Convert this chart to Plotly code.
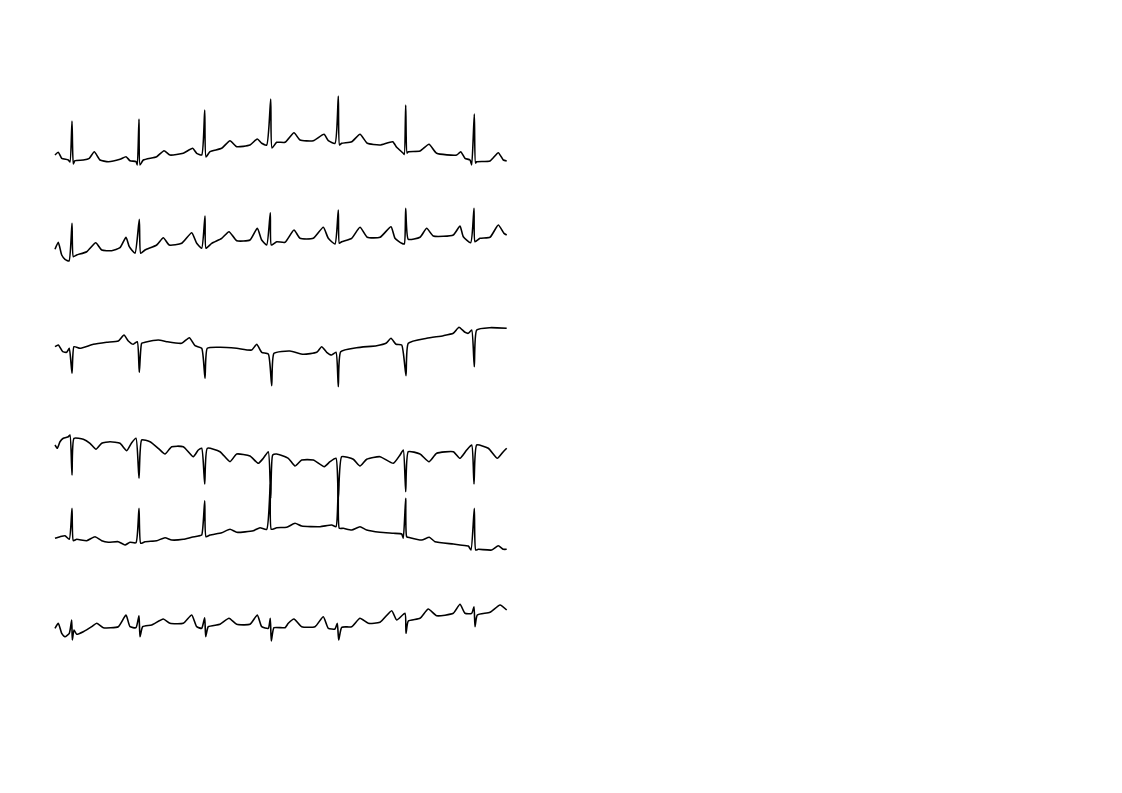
import plotly.graph_objects as go

# Six limb leads: time in samples, amplitude in a.u. (up = positive)
lead_names = ["I", "II", "III", "aVR", "aVL", "aVF"]

lead_I_t = [0, 3.3, 6.7, 13.3, 15, 17, 18.3, 20, 28.3, 34.3, 39.3, 45, 53.3, 65, 71, 75, 81, 82.3, 84, 85, 88.3,
            101.7, 109, 115, 128.3, 137.7, 141.7, 146.7, 149.7, 151, 155, 166.7, 175, 181.7, 195, 202.3, 206.7,
            211.7, 215.7, 217, 221.7, 230, 239, 245, 258.3, 269, 273.3, 280, 283.3, 284.5, 286.7, 296.7, 305,
            312.3, 325, 337.7, 341.7, 348.3, 349.3, 350.7, 352, 353.3, 365, 374, 381.7, 401.7, 405.7, 410, 415,
            416.7, 419.3, 420.5, 421.7, 435, 443.3, 448.3, 451.7]
lead_I_v = [2, 4.7, -1.3, -3, -5, 36, -7, -3.7, -3, -1.3, 5.3, -3, -4.7, -2.3, 0.3, -3.7, -4.7, -8, 38, -8, -3,
            0.3, 6.3, 2, 3.7, 8.7, 3.7, 2, 47, 0, 5.3, 8.7, 16.3, 10.3, 12, 18, 13.7,
            12, 58, 9, 14.7, 14.7, 24.3, 17, 16.3, 22.7, 16.3, 13.7, 61, 12, 13.7, 15.3, 22.7,
            13.7, 12, 15.3, 9.7, 3.7, 2.5, 52, 4, 5.3, 6, 12.7, 3.7, 2, 5.3, -1.3, -3,
            -8, 43, -6, -4.7, -4, 4.3, -3, -4]

lead_II_t = [0, 3.3, 6.7, 10, 14, 17, 18.3, 21.7, 31.7, 40.7, 46.7, 56.7, 65, 71, 74.3, 80, 84.3, 85.7, 90, 101.7,
             108.3, 114.3, 126.7, 136.7, 141.7, 146.7, 150, 151, 156.7, 166.7, 174, 181.7, 195, 202.3, 206.7,
             211.7, 215.3, 216.3, 221.7, 230, 239, 245, 258.3, 268.3, 273.3, 280, 283.3, 284.3, 286.7, 296.7,
             305, 312.3, 325, 336, 340, 346.7, 349.3, 350.7, 353.3, 365, 371.7, 378.3, 398.3, 405, 408.3, 415.7,
             419, 420, 425, 435, 443.3, 449, 451.7]
lead_II_v = [-2.3, 4.7, -8, -12.3, -14, 23.7, -9.7, -8, -4.7, 4.3, -3, -3.7, -0.7, 9.7, 0.3, -6.3, 27.7, -6.3, -3, 2,
             9.3, 2, 3.7, 14.3, 3.7, -1.3, 31, -1.3, 3.7, 8.7, 15.3, 6.3, 7, 18.7, 7,
             2, 34.3, 2, 5.3, 4.7, 17, 8.7, 8.7, 19.7, 8.7, 3, 37, 3.7, 5.3, 8.7,
             19.7, 9.7, 9.7, 20.3, 8.7, 3.7, 3, 38.7, 7.7, 9.7, 18.7, 11, 12, 21, 10.3, 4.3,
             38.7, 5.3, 8.7, 9.7, 22, 13.7, 12]

lead_III_t = [0, 3.3, 7.7, 11.7, 14.3, 17, 19, 25, 38.3, 51.7, 63.3, 69, 73.3, 78.3, 82.3, 84.3, 86.7, 90, 103.3,
              111.7, 126.7, 134.3, 140, 146.7, 150, 152.3, 165, 181.7, 196.7, 201.7, 206.7, 213.3, 216.7, 219,
              235, 248.3, 261.7, 266.7, 271.7, 276.7, 281, 283.3, 285.7, 301.7, 321.7, 331, 336, 341, 346.7, 351,
              353.3, 371.7, 388.3, 398.3, 404, 410, 413.3, 416.7, 419.3, 421.7, 435, 451.7]
lead_III_v = [-1.7, 0, -6.7, -7.3, -3.3, -28.3, -1.7, -3.3, 0.7, 2.7, 4, 10, 4, 0.7, 3.3, -27.3, 1.7, 2.7, 5,
              3.3, 1.7, 7.3, -0.7, -3.3, -33.3, -3.3, -2.3, -3.3, -5, 0.7, -7.3, -9, -40.7, -8.3,
              -6, -9.3, -7.3, -1.7, -7.3, -10, -7.3, -41.7, -6.7, -2.7, -0.7, 1.7, 6.7, 0.7, 0, -30.7,
              1.7, 6.7, 9.3, 11.7, 17.7, 12.7, 11.7, 15, -21.7, 15, 17.3, 16.7]

lead_aVR_t = [0, 2.3, 5, 8.3, 13.3, 15, 17, 19, 28.3, 35, 41, 46.7, 55, 65, 71.7, 76.7, 81, 84, 86.7, 95, 103.3,
              110, 116.7, 128.3, 138.3, 143.3, 146.7, 149.7, 152.3, 165, 175, 181.7, 195, 203.3, 208.3, 213.3,
              215.7, 217.7, 221.7, 233.3, 240, 246.7, 258.3, 269.3, 275, 281, 283.3, 286.7, 298.3, 305, 311.7,
              325, 338.3, 345, 348.3, 350.7, 353.3, 365, 374, 381.7, 398.3, 405, 411.7, 416.7, 419, 421.7, 433.3,
              442.3, 448.3, 451.7]
lead_aVR_v = [0, -3.3, 3.3, 6.7, 8.3, 10, -30, 6.7, 5.7, 1.7, -4.3, 1.7, 3.3, 1.7, -5.7, 2.3, 6.7, -33.3, 5, 3.3, -3.3,
              -9, -1.7, -1.7, -11.7, -5, -3.3, -39, -3.3, -6.7, -16.7, -9, -11, -18.3, -13.3, -6.7,
              -53.3, -10, -9, -13.3, -21, -15, -15, -21.7, -16.7, -13.3, -53.3, -11.7, -14.3, -21, -14.3,
              -11.7, -18.3, -10, -5, -46.7, -6.7, -9, -16.7, -8.3, -6.7, -13.3, -5, 0, -39, 0, -3.3,
              -13.3, -6.7, -3.3]

lead_aVL_t = [0, 5, 10, 14.3, 17, 18.3, 21.7, 31.7, 40, 46.7, 53.3, 63.3, 70, 75, 81, 84, 85.7, 90, 101.7, 110,
              116.7, 128.3, 136.7, 143.3, 146.7, 149.7, 151, 155, 166.7, 175, 181.7, 198.3, 205, 211.7, 215.3,
              216.3, 221.7, 231.7, 240, 246.7, 265, 276.7, 281, 283.3, 284.3, 288.3, 296.7, 305, 311.7, 325,
              338.3, 346.7, 348.3, 350.7, 351.7, 355, 366.7, 374.3, 380, 398.3, 405, 413.3, 416, 419.3, 420.7,
              423.3, 436.7, 443.3, 448.3, 451.7]
lead_aVL_v = [1.7, 3.3, 4.3, 0.7, 31.7, -0.7, 0.7, -0.7, 3.3, -0.7, -2.3, -1.7, -5, -2.3, -2.7, 31.7, -3.3, -1.7, -0.7, 2.3,
              0, 0.7, 2.7, 4, 5, 39.3, 3.3, 5, 7.3, 10.7, 7.7, 9.3, 12.3, 10.7, 56,
              10.7, 12.3, 12.7, 16.7, 14, 13.3, 15, 13.3, 56, 11.7, 11.7, 10, 13.3, 10, 7.7,
              6.7, 6, 1.7, 41.7, 3.3, 2.3, 0, 2.7, -1.7, -4, -5, -6, -10, 31.7, -10,
              -9.3, -10, -5.7, -9.3, -9.3]

lead_aVF_t = [0, 3.3, 6.7, 10, 14.3, 16.7, 17.3, 19, 21.7, 28.3, 36.7, 41.7, 48.3, 63.3, 71, 75, 81, 84, 85, 87.7,
              96.7, 108.3, 115, 128.3, 136.7, 141.7, 146.7, 149.7, 150.7, 153.3, 165, 174, 181.7, 195, 202.3,
              206.7, 213.3, 215.3, 216.3, 219, 230, 233.3, 239, 246.7, 260, 268.3, 273.3, 280, 282.3, 283.7,
              286.7, 296.7, 305, 313.3, 325, 336.7, 341.7, 350, 351, 353.3, 365, 373.3, 381.7, 398.3, 405, 410,
              416.7, 419, 420, 422.3, 435, 445, 451.7]
lead_aVF_v = [-1.3, 3.7, -6.3, -9.7, -6.3, 7, -13, -3, -7.3, -4.7, 0.3, 3.7, -0.7, 0.3, 12, 0.3, -0.7, 11.3, -9.7, 0.3,
              2, 8, 3.7, 3.7, 12, 0.3, -1.3, 9.3, -9.7, 0.3, 2.7, 8.7, 2.7, 2.7, 12,
              0.3, -1.3, 8.7, -14, -0.7, -0.7, 3.7, 8, 0.3, 0.3, 10.3, -1.3, -2, 3.7, -13,
              -0.3, 0.3, 8.7, 3.7, 4.7, 16.3, 7, 13.7, -6.3, 6, 8.7, 18, 11.3, 13.7, 22.7, 13.7,
              13.7, 20.3, 0.3, 12, 14.7, 22, 17]

leads = [
    (lead_I_t, lead_I_v),
    (lead_II_t, lead_II_v),
    (lead_III_t, lead_III_v),
    (lead_aVR_t, lead_aVR_v),
    (lead_aVL_t, lead_aVL_v),
    (lead_aVF_t, lead_aVF_v),
]

# Layout: vertical placement of each lead's baseline on the page
lead_offsets = [157, 247, 345, 445, 540, 627]

fig = go.Figure()
for name, (t, v), off in zip(lead_names, leads, lead_offsets):
    fig.add_trace(go.Scatter(
        x=t, y=[val - off for val in v], mode="lines", name=name,
        line=dict(color="black", width=1.6, shape="spline", smoothing=0.5),
        hoverinfo="skip", showlegend=False,
    ))

fig.update_layout(
    width=1122, height=793,
    margin=dict(l=0, r=0, t=0, b=0),
    paper_bgcolor="white", plot_bgcolor="white",
    xaxis=dict(range=[-55, 1067], visible=False, showgrid=False, zeroline=False),
    yaxis=dict(range=[-793, 0], visible=False, showgrid=False, zeroline=False),
)

fig.write_html("out.html")
